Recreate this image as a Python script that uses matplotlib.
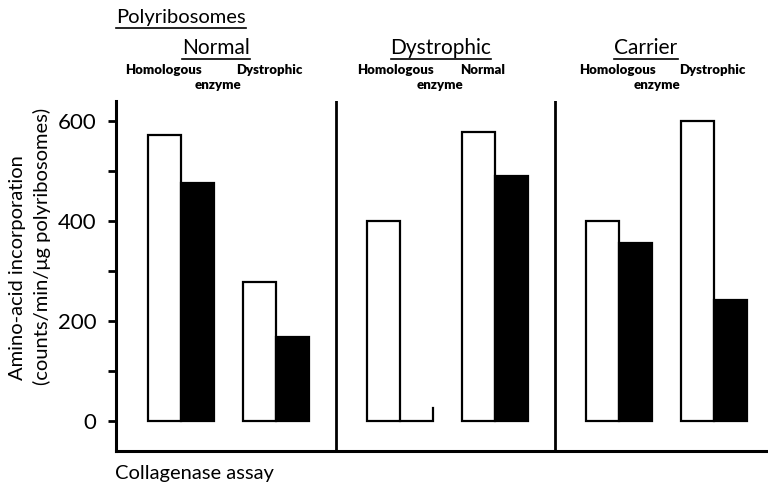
import matplotlib
matplotlib.use("Agg")
import matplotlib.pyplot as plt
from matplotlib.lines import Line2D

plt.rcParams["font.family"] = ["Lato", "DejaVu Sans"]

# polyribosome source, and the enzyme source for each pair of bars
groups = ["Normal", "Dystrophic", "Carrier"]
enzymes = [["Homologous", "Dystrophic"],
           ["Homologous", "Normal"],
           ["Homologous", "Dystrophic"]]
# counts/min/ug polyribosomes; open = first bar of pair, filled = second
open_vals = [572, 278, 400, 578, 400, 600]
filled_vals = [476, 168, 0, 490, 356, 242]
zero_stub = 26          # short riser drawn where the filled bar is ~0
yticks_major = [0, 200, 400, 600]
yticks_minor = [100, 300, 500]

W = 1.0                 # bar width
GROUP_STEP = 6.64
PAIR_STEP = 2.88
FIRST = 0.97

fig = plt.figure(figsize=(7.68, 4.87), dpi=100)
ax = fig.add_axes([116 / 768, 36 / 487, 652 / 768, 350 / 487])
ax.set_xlim(0, 652 / 33)
ax.set_ylim(-60, 640)

lw = 1.6
for g in range(len(groups)):
    for p in range(2):
        i = 2 * g + p
        x0 = FIRST + g * GROUP_STEP + p * PAIR_STEP
        ax.bar(x0, open_vals[i], W, align="edge", facecolor="white",
               edgecolor="black", linewidth=lw, zorder=3)
        if filled_vals[i] > 0:
            ax.bar(x0 + W, filled_vals[i], W, align="edge", facecolor="black",
                   edgecolor="black", linewidth=lw, zorder=3)
        else:
            ax.plot([x0 + W, x0 + 2 * W, x0 + 2 * W], [0, 0, zero_stub],
                    color="black", lw=lw, solid_joinstyle="miter", zorder=3)
    if g > 0:
        ax.axvline(FIRST + g * GROUP_STEP - 0.95, color="black", lw=2.0)

for s in ("top", "right"):
    ax.spines[s].set_visible(False)
for s in ("left", "bottom"):
    ax.spines[s].set_linewidth(2.2)
ax.set_xticks([])
ax.set_yticks(yticks_major)
ax.set_yticklabels([str(v) for v in yticks_major], fontsize=16)
ax.set_yticks(yticks_minor, minor=True)
ax.tick_params(axis="y", which="both", direction="out", length=6, width=2,
               pad=8)

fig.text(18 / 768, 1 - 268 / 487, "Amino-acid incorporation", rotation=90,
         ha="center", va="center", fontsize=14.5)
fig.text(42 / 768, 1 - 246 / 487, "(counts/min/\u03bcg polyribosomes)",
         rotation=90, ha="center", va="center", fontsize=14.5)
fig.text(115 / 768, 1 - 474 / 487, "Collagenase assay", ha="left",
         va="center", fontsize=14.5)

underlined = []
underlined.append(fig.text(116 / 768, 1 - 18 / 487, "Polyribosomes",
                           ha="left", va="center", fontsize=14.5))
head_x = [216, 441, 646]
sub_x = [(163, 269), (395, 483), (618, 712)]
enz_x = [218, 440, 657]
for g, name in enumerate(groups):
    underlined.append(fig.text(head_x[g] / 768, 1 - 48 / 487, name,
                               ha="center", va="center", fontsize=15))
    for p in range(2):
        fig.text(sub_x[g][p] / 768, 1 - 70 / 487, enzymes[g][p], ha="center",
                 va="center", fontsize=9.5, fontweight="heavy")
    fig.text(enz_x[g] / 768, 1 - 85 / 487, "enzyme", ha="center",
             va="center", fontsize=9.5, fontweight="heavy")

# underline the headings
fig.canvas.draw()
r = fig.canvas.get_renderer()
for t in underlined:
    bb = t.get_window_extent(r)
    y = bb.y0 - 1.0
    fig.add_artist(Line2D([bb.x0 / 768, bb.x1 / 768], [y / 487, y / 487],
                          color="black", lw=1.2))

fig.savefig("out.png", dpi=100)
